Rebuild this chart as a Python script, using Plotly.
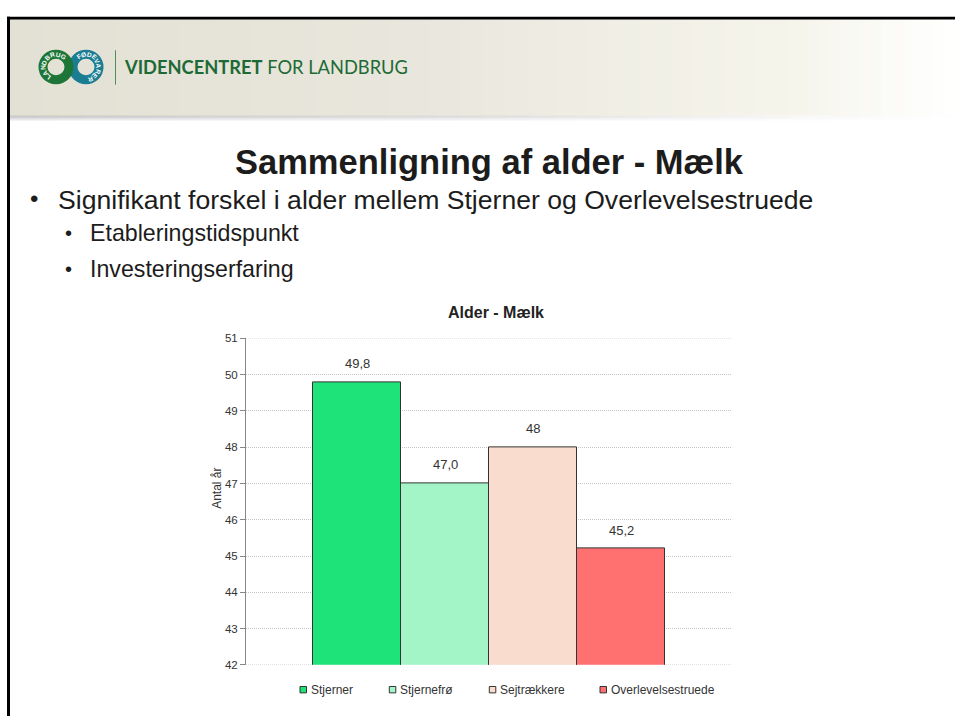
import math
import plotly.graph_objects as go

# ---- data -------------------------------------------------------------
categories = ["Stjerner", "Stjernefrø", "Sejtrækkere", "Overlevelsestruede"]
alder = [49.8, 47.0, 48.0, 45.2]
alder_labels = ["49,8", "47,0", "48", "45,2"]
bar_colors = ["#1de379", "#a3f5c8", "#f9dccd", "#ff7070"]
y_ticks = [42, 43, 44, 45, 46, 47, 48, 49, 50, 51]

slide_title = "Sammenligning af alder - Mælk"
bullet_main = "Signifikant forskel i alder mellem Stjerner og Overlevelsestruede"
bullet_sub = ["Etableringstidspunkt", "Investeringserfaring"]
chart_title = "Alder - Mælk"
y_title = "Antal år"

# ---- page geometry (pixels) ------------------------------------------
W, H = 955, 722
FONT = "Liberation Sans, Arial, sans-serif"


def px(x):
    return x / W


def py(y):
    return 1 - y / H


def hexmix(c1, c2, t):
    a = [int(c1[i:i + 2], 16) for i in (1, 3, 5)]
    b = [int(c2[i:i + 2], 16) for i in (1, 3, 5)]
    return "#" + "".join(f"{round(a[k] + (b[k] - a[k]) * t):02x}" for k in range(3))


def gradient(stops, x):
    for (x0, c0), (x1, c1) in zip(stops, stops[1:]):
        if x0 <= x <= x1:
            return hexmix(c0, c1, (x - x0) / (x1 - x0))
    return stops[-1][1]


def rect(x0, y0, x1, y1, color, layer="below"):
    return dict(type="rect", xref="paper", yref="paper",
                x0=px(x0), x1=px(x1), y0=py(y1), y1=py(y0),
                fillcolor=color, line_width=0, layer=layer)


shapes = []
annotations = []

# header band with horizontal fade
band_stops = [(10, "#e3e0d4"), (420, "#e9e7dd"), (800, "#f6f5ec"), (955, "#ffffff")]
n_strips = 90
for i in range(n_strips):
    x0 = 10 + (W - 10) * i / n_strips
    x1 = 10 + (W - 10) * (i + 1) / n_strips + 0.6
    shapes.append(rect(x0, 13, x1, 112, gradient(band_stops, (x0 + x1) / 2)))

# soft shadow under the header
shadow_rows = [(111.5, "#d6d2c4"), (112.5, "#c2c2c5"), (113.5, "#cdcdd0"),
               (114.5, "#dadadd"), (115.5, "#e7e7e9"), (116.5, "#f3f3f4")]
fade = [(10, 0.0), (450, 0.35), (800, 0.85), (955, 1.0)]
n_seg = 40
for yrow, col in shadow_rows:
    for i in range(n_seg):
        x0 = 10 + (W - 10) * i / n_seg
        x1 = 10 + (W - 10) * (i + 1) / n_seg + 0.6
        xm = (x0 + x1) / 2
        t = 0.0
        for (a, ta), (b, tb) in zip(fade, fade[1:]):
            if a <= xm <= b:
                t = ta + (tb - ta) * (xm - a) / (b - a)
        shapes.append(rect(x0, yrow - 0.5, x1, yrow + 0.5, hexmix(col, "#ffffff", t)))

# slide frame (top and left edge)
shapes.append(rect(7, 11, W, 13.8, "#000000", layer="above"))
shapes.append(rect(7, 11, 10, H, "#000000", layer="above"))

# logo: two linked rings with lettering
ring_r = 13
for cx, col in [(86, "#1b7d92"), (56, "#1d7638")]:
    shapes.append(dict(type="circle", xref="paper", yref="paper",
                       x0=px(cx - ring_r), x1=px(cx + ring_r),
                       y0=py(62 + ring_r), y1=py(62 - ring_r),
                       line=dict(color=col, width=9), fillcolor="rgba(0,0,0,0)"))


def ring_text(word, cx, cy, r, a_start, a_end):
    n = len(word)
    for k, ch in enumerate(word):
        a = a_start + (a_end - a_start) * k / (n - 1)
        ar = math.radians(a)
        x = cx + r * math.cos(ar)
        y = cy - r * math.sin(ar)
        annotations.append(dict(text=f"<b>{ch}</b>", xref="paper", yref="paper",
                                x=px(x), y=py(y), showarrow=False,
                                xanchor="center", yanchor="middle",
                                textangle=90 - a,
                                font=dict(family=FONT, size=6.5, color="#ffffff")))


ring_text("LANDBRUG", 56, 62, 13, 235, 55)
ring_text("FØDEVARER", 86, 62, 13, 125, -70)

shapes.append(dict(type="line", xref="paper", yref="paper",
                   x0=px(115.5), x1=px(115.5), y0=py(45), y1=py(80),
                   line=dict(color="#4d8f5a", width=1)))

annotations.append(dict(text="<b>VIDENCENTRET</b> FOR LANDBRUG", xref="paper", yref="paper",
                        x=px(122), y=py(62), xanchor="left", yanchor="middle", showarrow=False,
                        font=dict(family="Lato, Open Sans, sans-serif", size=18.3, color="#1e6a36")))

# slide title and bullets
annotations.append(dict(text=f"<b>{slide_title}</b>", xref="paper", yref="paper",
                        x=px(489), y=py(159), xanchor="center", yanchor="middle",
                        showarrow=False, font=dict(family=FONT, size=34.5, color="#1c1c1c")))

annotations.append(dict(text="•", xref="paper", yref="paper", x=px(34), y=py(196),
                        xanchor="center", yanchor="middle", showarrow=False,
                        font=dict(family=FONT, size=24, color="#1c1c1c")))
annotations.append(dict(text=bullet_main, xref="paper", yref="paper", x=px(56), y=py(197),
                        xanchor="left", yanchor="middle", showarrow=False,
                        font=dict(family=FONT, size=26.6, color="#1c1c1c")))
for k, line in enumerate(bullet_sub):
    yy = 231 + 36 * k
    annotations.append(dict(text="•", xref="paper", yref="paper", x=px(68), y=py(yy),
                            xanchor="center", yanchor="middle", showarrow=False,
                            font=dict(family=FONT, size=20, color="#1c1c1c")))
    annotations.append(dict(text=line, xref="paper", yref="paper", x=px(88), y=py(yy),
                            xanchor="left", yanchor="middle", showarrow=False,
                            font=dict(family=FONT, size=23.2, color="#1c1c1c")))

# chart title and y-axis title
annotations.append(dict(text=f"<b>{chart_title}</b>", xref="paper", yref="paper",
                        x=px(496), y=py(312), xanchor="center", yanchor="middle",
                        showarrow=False, font=dict(family=FONT, size=16, color="#222222")))
annotations.append(dict(text=y_title, xref="paper", yref="paper",
                        x=px(217), y=py(491), xanchor="center", yanchor="middle",
                        textangle=-90, showarrow=False,
                        font=dict(family=FONT, size=12, color="#333333")))

# value labels above bars
for cat, val, lab in zip(categories, alder, alder_labels):
    annotations.append(dict(text=lab, x=cat, y=val, xref="x", yref="y",
                            xanchor="center", yanchor="bottom", yshift=9,
                            showarrow=False,
                            font=dict(family=FONT, size=13, color="#333333")))

# gridlines at both ends of the value axis
for v in (y_ticks[0], y_ticks[-1]):
    shapes.append(dict(type="line", xref="x domain", yref="y",
                       x0=0, x1=1, y0=v, y1=v, layer="below",
                       line=dict(color="#c4c4c4", width=1, dash="1px,1px")))

# legend: small squares with labels
legend_x = [300, 389.3, 489.3, 600]
for cat, col, lx in zip(categories, bar_colors, legend_x):
    shapes.append(dict(type="rect", xref="paper", yref="paper",
                       x0=px(lx), x1=px(lx + 6.5), y0=py(698.5), y1=py(692),
                       fillcolor=col, line=dict(color="#333333", width=1)))
    annotations.append(dict(text=cat, xref="paper", yref="paper",
                            x=px(lx + 9), y=py(695.3), xanchor="left", yanchor="middle",
                            showarrow=False,
                            font=dict(family=FONT, size=12, color="#333333")))

# ---- chart -----------------------------------------------------------
fig = go.Figure()
fig.add_trace(go.Bar(
    x=categories, y=alder,
    marker=dict(color=bar_colors, line=dict(color="#333333", width=1)),
    hoverinfo="x+y", showlegend=False,
))

# plot area in pixels: x 246..732, y 338..670 ; bars span 313..665
bar_px = 88.0
left_pad = (313 - 246) / bar_px
right_pad = (732 - 665) / bar_px

fig.update_layout(
    width=W, height=H,
    margin=dict(l=0, r=0, t=0, b=0),
    paper_bgcolor="#ffffff", plot_bgcolor="#ffffff",
    bargap=0,
    showlegend=False,
    shapes=shapes,
    annotations=annotations,
    xaxis=dict(domain=[px(246), px(732)], range=[-0.5 - left_pad, 3.5 + right_pad],
               showticklabels=False, showgrid=False, zeroline=False, showline=False,
               ticks="", fixedrange=True),
    yaxis=dict(domain=[py(670), py(338)], range=[42, 51], tickvals=y_ticks,
               ticks="outside", ticklen=5, tickcolor="#888888",
               showline=True, linecolor="#888888", linewidth=1,
               showgrid=True, gridcolor="#c4c4c4", griddash="1px,1px", gridwidth=1,
               zeroline=False, tickfont=dict(family=FONT, size=11.5, color="#333333"),
               fixedrange=True),
)

fig.write_html("out.html", config={"displayModeBar": False})
